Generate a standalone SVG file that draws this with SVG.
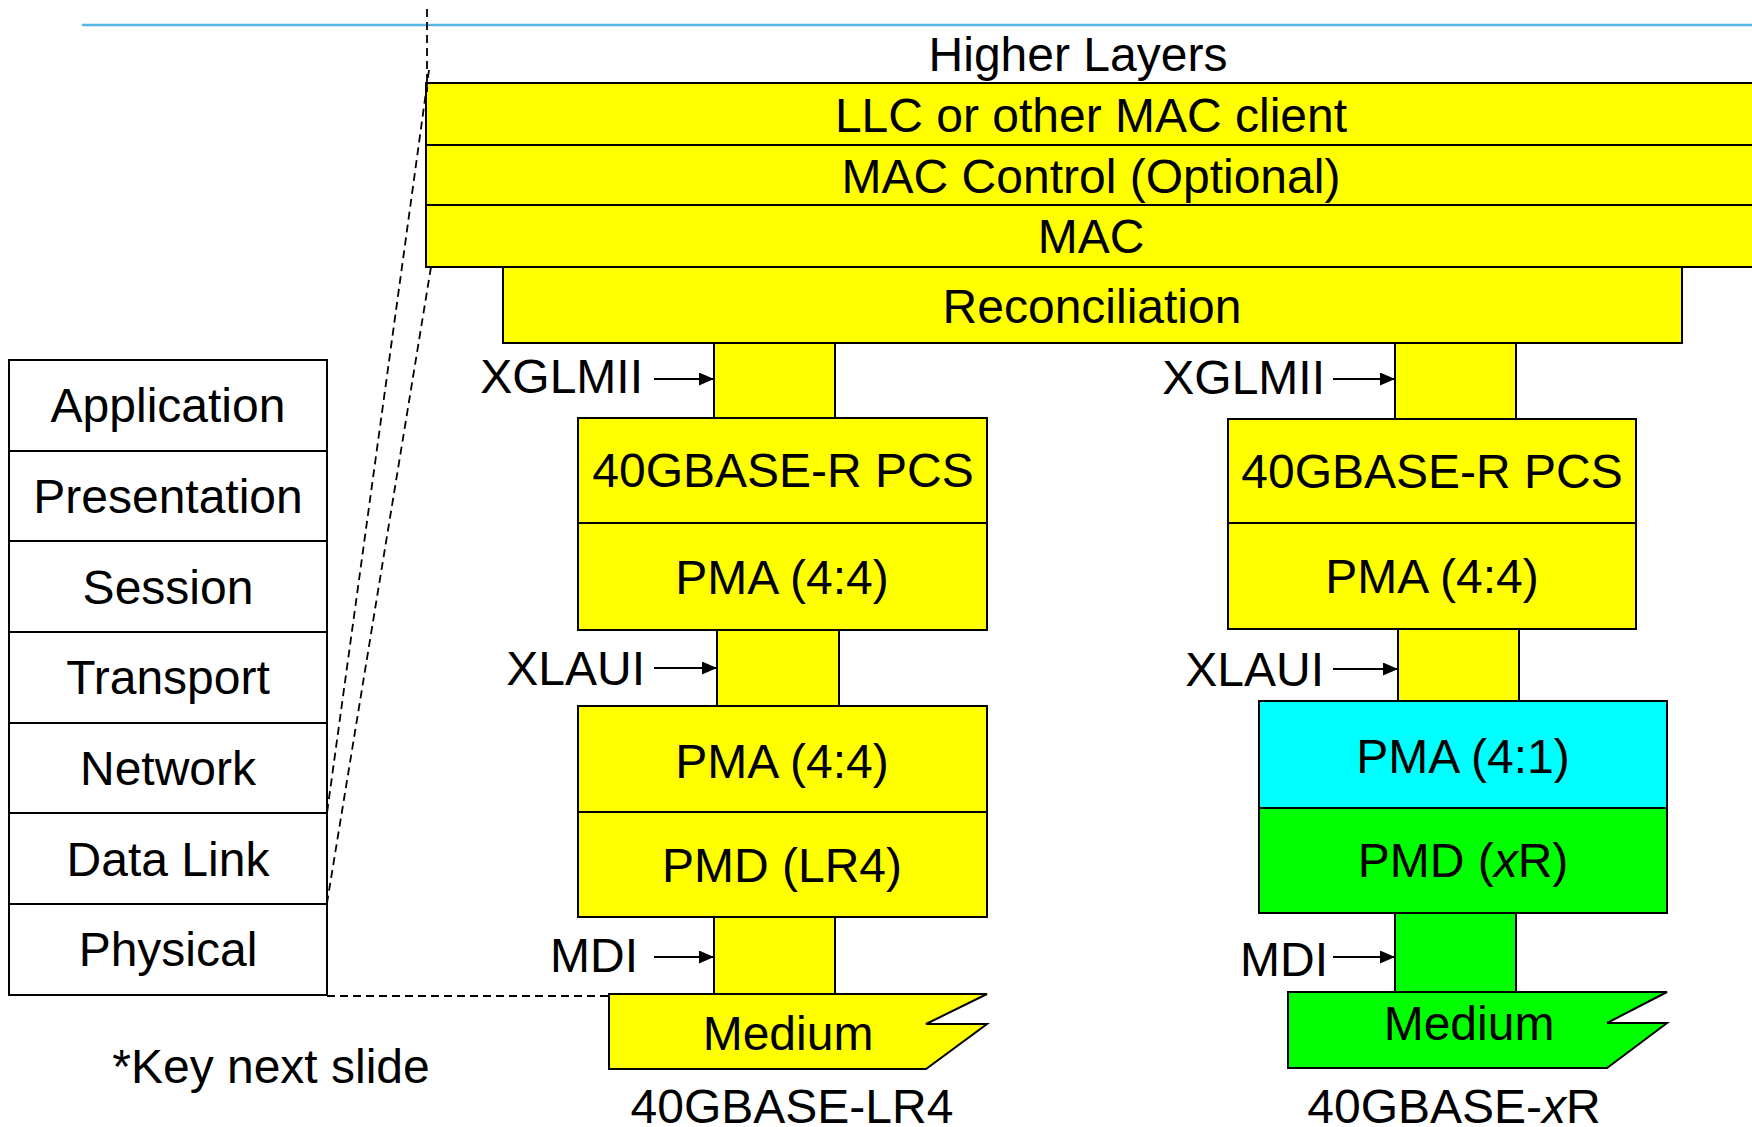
<svg xmlns="http://www.w3.org/2000/svg" width="1752" height="1127" viewBox="0 0 1752 1127">
  <style>
    text { font-family: "Liberation Sans", Arial, sans-serif; font-size: 48px; fill: #000; }
    .c { text-anchor: middle; }
    .e { text-anchor: end; }
    .yl { fill: #FFFF00; stroke: #000; stroke-width: 2; }
    .cy { fill: #00FFFF; stroke: #000; stroke-width: 2; }
    .gr { fill: #00FF00; stroke: #000; stroke-width: 2; }
    .osi { fill: #FFFFFF; stroke: #000; stroke-width: 2; }
    .dash { fill: none; stroke: #000; stroke-width: 1.8; stroke-dasharray: 8 5; }
    .arr { stroke: #000; stroke-width: 2; marker-end: url(#ah); }
  </style>
  <defs>
    <marker id="ah" markerWidth="15" markerHeight="13" refX="15" refY="6.5" orient="auto" markerUnits="userSpaceOnUse">
      <path d="M0,0 L15,6.5 L0,13 z" fill="#000"/>
    </marker>
  </defs>

  <rect width="1752" height="1127" fill="#FFFFFF"/>

  <!-- title rule -->
  <line x1="82" y1="25" x2="1752" y2="25" stroke="#55B9E3" stroke-width="2.5"/>

  <!-- OSI reference model -->
  <g id="osi-application"><rect class="osi" x="9" y="360" width="318" height="91"/><text class="c" x="168" y="422">Application</text></g>
  <g id="osi-presentation"><rect class="osi" x="9" y="451" width="318" height="90"/><text class="c" x="168" y="513">Presentation</text></g>
  <g id="osi-session"><rect class="osi" x="9" y="541" width="318" height="91"/><text class="c" x="168" y="604">Session</text></g>
  <g id="osi-transport"><rect class="osi" x="9" y="632" width="318" height="91"/><text class="c" x="168" y="694">Transport</text></g>
  <g id="osi-network"><rect class="osi" x="9" y="723" width="318" height="90"/><text class="c" x="168" y="785">Network</text></g>
  <g id="osi-datalink"><rect class="osi" x="9" y="813" width="318" height="91"/><text class="c" x="168" y="876">Data Link</text></g>
  <g id="osi-physical"><rect class="osi" x="9" y="904" width="318" height="91"/><text class="c" x="168" y="966">Physical</text></g>

  <!-- shared upper layers -->
  <g id="higher-layers"><text class="c" x="1078" y="71">Higher Layers</text></g>
  <g id="llc"><rect class="yl" x="426" y="83" width="1340" height="62"/><text class="c" x="1091" y="132">LLC or other MAC client</text></g>
  <g id="mac-control"><rect class="yl" x="426" y="145" width="1340" height="60"/><text class="c" x="1091" y="193">MAC Control (Optional)</text></g>
  <g id="mac"><rect class="yl" x="426" y="205" width="1340" height="62"/><text class="c" x="1091" y="253">MAC</text></g>
  <g id="reconciliation"><rect class="yl" x="503" y="267" width="1179" height="76"/><text class="c" x="1092" y="323">Reconciliation</text></g>

  <!-- 40GBASE-LR4 stack -->
  <g id="lr4-xglmii"><rect class="yl" x="714" y="343" width="121" height="75"/><text class="e" x="643" y="393">XGLMII</text></g>
  <g id="lr4-pcs"><rect class="yl" x="578" y="418" width="409" height="105"/><text class="c" x="783" y="487">40GBASE-R PCS</text></g>
  <g id="lr4-pma-upper"><rect class="yl" x="578" y="523" width="409" height="107"/><text class="c" x="782" y="594">PMA (4:4)</text></g>
  <g id="lr4-xlaui"><rect class="yl" x="717" y="630" width="122" height="76"/><text class="e" x="645" y="685">XLAUI</text></g>
  <g id="lr4-pma-lower"><rect class="yl" x="578" y="706" width="409" height="106"/><text class="c" x="782" y="778">PMA (4:4)</text></g>
  <g id="lr4-pmd"><rect class="yl" x="578" y="812" width="409" height="105"/><text class="c" x="782" y="882">PMD (LR4)</text></g>
  <g id="lr4-mdi"><rect class="yl" x="714" y="917" width="121" height="77"/><text class="e" x="638" y="972">MDI</text></g>
  <g id="lr4-medium"><path class="yl" d="M609,994 L987,994 L926,1024 L987,1024 L926,1069 L609,1069 Z"/><text class="c" x="788" y="1050">Medium</text></g>
  <g id="lr4-label"><text class="c" x="792" y="1123">40GBASE-LR4</text></g>

  <!-- 40GBASE-xR stack -->
  <g id="xr-xglmii"><rect class="yl" x="1395" y="343" width="121" height="76"/><text class="e" x="1325" y="394">XGLMII</text></g>
  <g id="xr-pcs"><rect class="yl" x="1228" y="419" width="408" height="104"/><text class="c" x="1432" y="488">40GBASE-R PCS</text></g>
  <g id="xr-pma-upper"><rect class="yl" x="1228" y="523" width="408" height="106"/><text class="c" x="1432" y="593">PMA (4:4)</text></g>
  <g id="xr-xlaui"><rect class="yl" x="1398" y="629" width="121" height="72"/><text class="e" x="1324" y="686">XLAUI</text></g>
  <g id="xr-pma-lower"><rect class="cy" x="1259" y="701" width="408" height="107"/><text class="c" x="1463" y="773">PMA (4:1)</text></g>
  <g id="xr-pmd"><rect class="gr" x="1259" y="808" width="408" height="105"/><text class="c" x="1463" y="877">PMD (<tspan font-style="italic">x</tspan>R)</text></g>
  <g id="xr-mdi"><rect class="gr" x="1395" y="913" width="121" height="79"/><text class="e" x="1328" y="976">MDI</text></g>
  <g id="xr-medium"><path class="gr" d="M1288,992 L1667,992 L1607,1023 L1667,1023 L1607,1068 L1288,1068 Z"/><text class="c" x="1469" y="1040">Medium</text></g>
  <g id="xr-label"><text class="c" x="1454" y="1123">40GBASE-<tspan font-style="italic">x</tspan>R</text></g>

  <g id="footnote"><text class="c" x="271" y="1083">*Key next slide</text></g>

  <!-- connectors: interface arrows and OSI mapping lines -->
  <g id="connectors">
    <line class="arr" x1="654" y1="379" x2="714" y2="379"/>
    <line class="arr" x1="654" y1="668" x2="717" y2="668"/>
    <line class="arr" x1="654" y1="957" x2="714" y2="957"/>
    <line class="arr" x1="1333" y1="379" x2="1395" y2="379"/>
    <line class="arr" x1="1333" y1="669" x2="1398" y2="669"/>
    <line class="arr" x1="1333" y1="957" x2="1395" y2="957"/>

    <line class="dash" x1="427" y1="9" x2="427" y2="92"/>
    <line class="dash" x1="429" y1="70" x2="327" y2="813"/>
    <line class="dash" x1="431" y1="267" x2="327" y2="903"/>
    <line class="dash" x1="327" y1="996" x2="609" y2="996"/>
  </g>
</svg>
